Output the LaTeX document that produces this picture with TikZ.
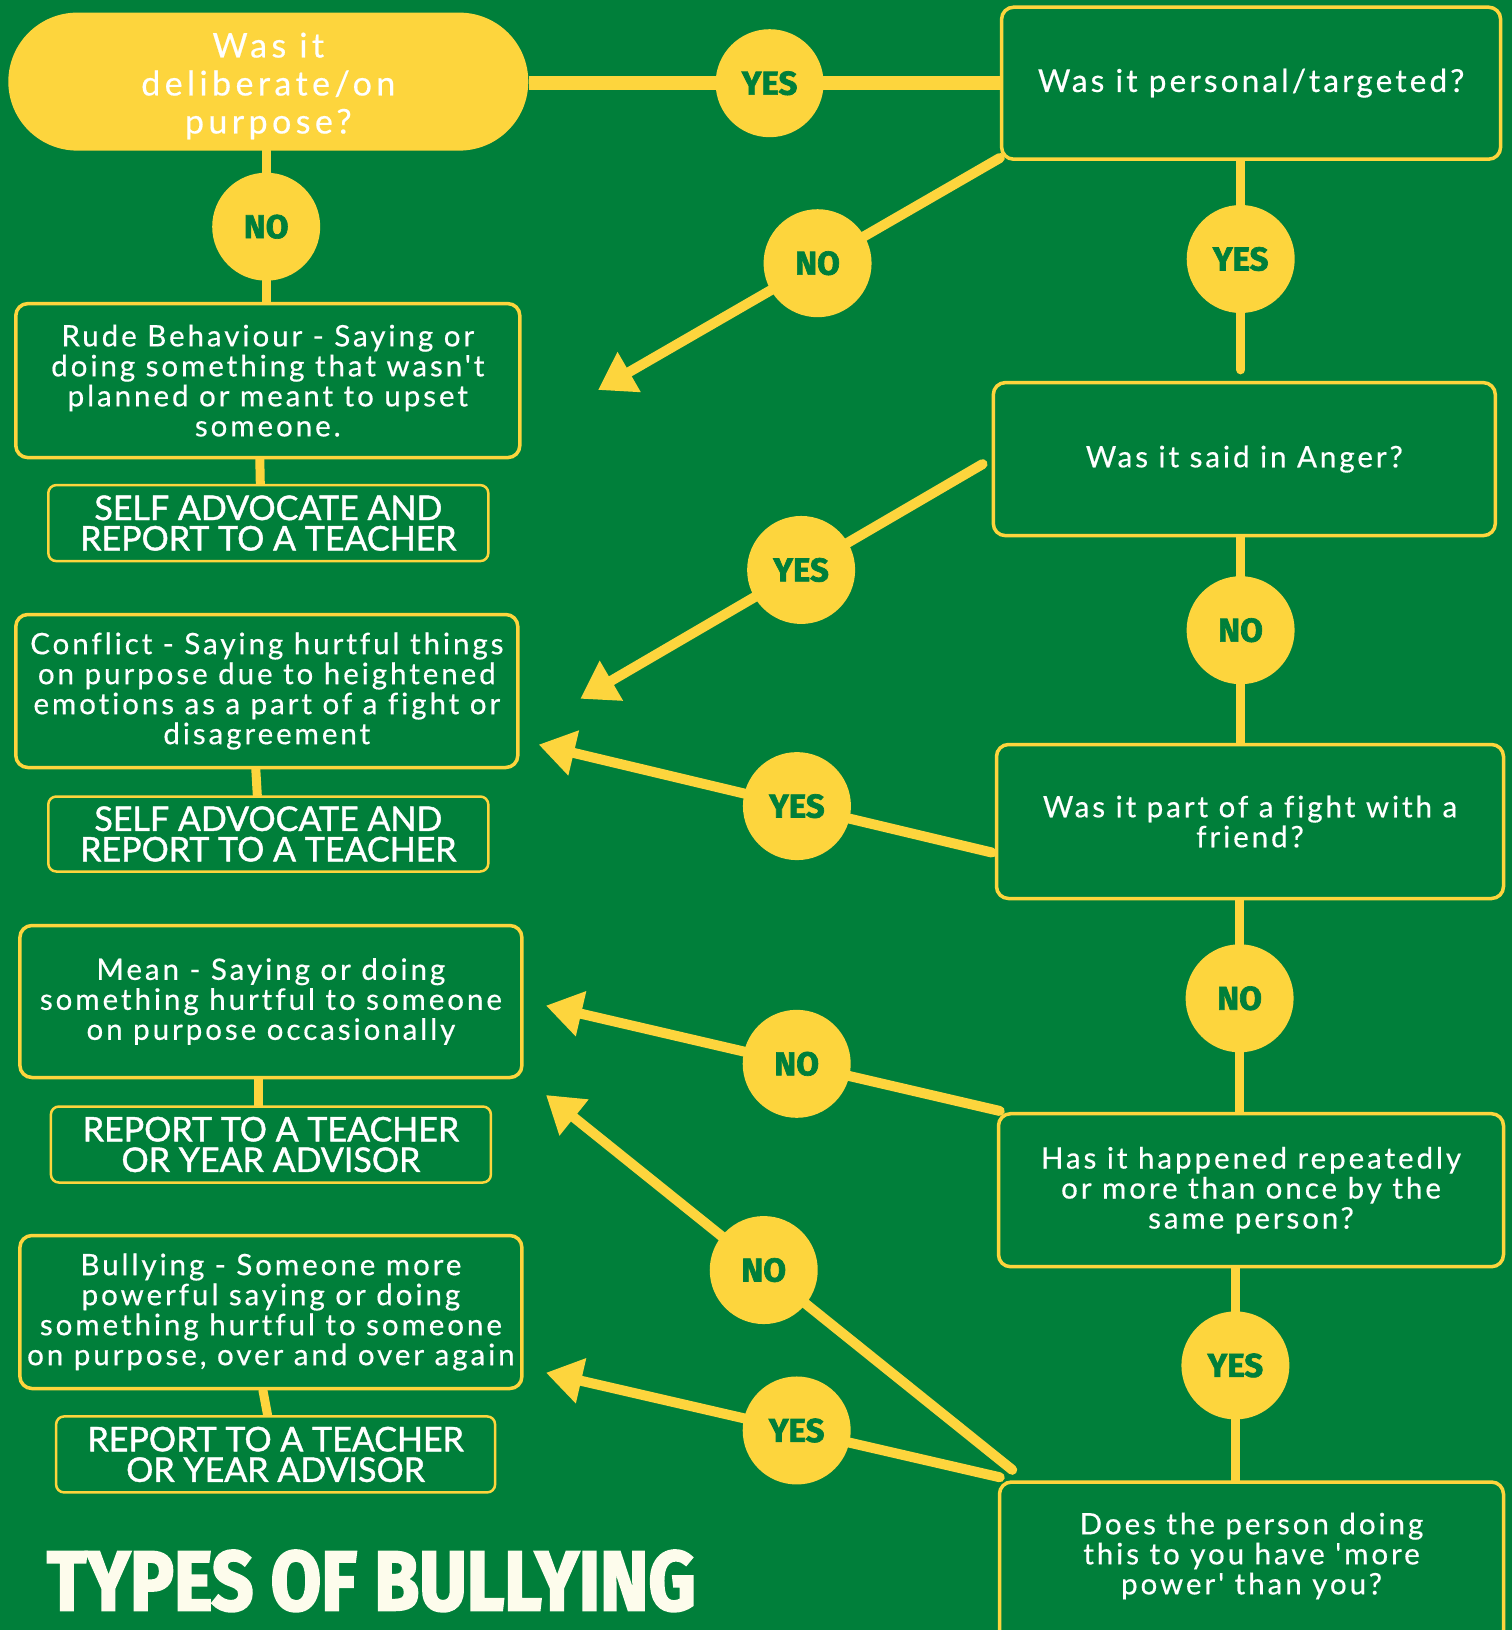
\documentclass[tikz,border=0pt]{standalone}
\usepackage{fontspec}
\usetikzlibrary{arrows.meta,calc}
\newfontfamily\bodyfont{Lato}[LetterSpace=10, Ligatures=CommonOff, FakeBold=0.5]
\newfontfamily\pillfont{Lato}[LetterSpace=13, Ligatures=CommonOff, FakeBold=0.5]
\newfontfamily\actfont{Lato}[FakeBold=1.2]
\newfontfamily\ynfont{Fira Sans}[BoldFeatures={FakeBold=2}]
\newfontfamily\titlefont{Fira Sans}[BoldFeatures={FakeBold=3}]
\definecolor{bggreen}{RGB}{0,127,58}
\definecolor{yel}{RGB}{253,213,61}
\definecolor{cream}{RGB}{253,252,236}
\pgfdeclarelayer{bg}
\pgfdeclarelayer{lines}
\pgfsetlayers{bg,lines,main}
\tikzset{
  qbox/.style={draw=yel, line width=3.5pt, rounded corners=12pt, fill=bggreen, text=white,
    align=center, inner sep=0pt, font=\bodyfont\fontsize{29.5}{30}\selectfont},
  abox/.style={draw=yel, line width=2.5pt, rounded corners=8pt, fill=bggreen, text=white,
    align=center, inner sep=0pt, minimum width=440pt, minimum height=76pt,
    font=\actfont\fontsize{34}{30.5}\selectfont},
  yn/.style={circle, fill=yel, minimum size=108pt, inner sep=0pt, text=bggreen,
    font=\ynfont\bfseries\fontsize{33}{33}\selectfont},
  link/.style={draw=yel, line width=9pt, line cap=round},
  arr/.style={draw=yel, line width=10pt, line cap=round, -{Triangle[length=36pt,width=44pt]}}
}
\begin{document}
\begin{tikzpicture}[x=1pt,y=-1pt]
\useasboundingbox (0,0) rectangle (1512,1630);
\begin{pgfonlayer}{bg}
\fill[bggreen] (0,0) rectangle (1512,1630);
\end{pgfonlayer}

% start node
\node[fill=yel, rounded corners=69pt, minimum width=520pt, minimum height=138pt, inner sep=0pt] (pill) at (268.3,81.6) {};
\node[text=white, align=center, inner sep=0pt, font=\pillfont\fontsize{34}{38}\selectfont] (pilltext) at (268.3,86)
  {Was it\\deliberate/on\\purpose?};

% question boxes (right)
\node[qbox, minimum width=499pt, minimum height=152pt, font=\bodyfont\fontsize{31.5}{30}\selectfont] (q1) at (1251.1,83.2) {Was it personal/targeted?};
\node[qbox, minimum width=502pt, minimum height=153pt] (q2) at (1244.3,459.1) {Was it said in Anger?};
\node[qbox, minimum width=507pt, minimum height=154pt] (q3) at (1250,821.5) {Was it part of a fight with a\\friend?};
\node[qbox, minimum width=505pt, minimum height=153pt] (q4) at (1251,1190.2) {Has it happened repeatedly\\or more than once by the\\same person?};
\node[qbox, minimum width=504pt, minimum height=160pt] (q5) at (1251.5,1562) {};
\node[text=white, align=center, inner sep=0pt, font=\bodyfont\fontsize{29.5}{30}\selectfont] (q5text) at (1251.5,1556)
  {Does the person doing\\this to you have 'more\\power' than you?};

% result boxes (left)
\node[qbox, minimum width=504pt, minimum height=154pt] (r1) at (267.8,380.6)
  {Rude Behaviour - Saying or\\doing something that wasn't\\planned or meant to upset\\someone.};
\node[abox] (a1) at (268.3,523.1) {SELF ADVOCATE AND\\REPORT TO A TEACHER};
\node[qbox, minimum width=502pt, minimum height=153pt] (r2) at (266.8,691)
  {Conflict - Saying hurtful things\\on purpose due to heightened\\emotions as a part of a fight or\\disagreement};
\node[abox, minimum height=75pt] (a2) at (268.3,834) {SELF ADVOCATE AND\\REPORT TO A TEACHER};
\node[qbox, minimum width=502pt, minimum height=152pt] (r3) at (270.9,1001.5)
  {Mean - Saying or doing\\something hurtful to someone\\on purpose occasionally};
\node[abox] (a3) at (270.9,1144.5) {REPORT TO A TEACHER\\OR YEAR ADVISOR};
\node[qbox, minimum width=502pt, minimum height=153pt] (r4) at (270.9,1312)
  {Bullying - Someone more\\powerful saying or doing\\something hurtful to someone\\on purpose, over and over again};
\node[abox, minimum width=439pt] (a4) at (275.6,1454.4) {REPORT TO A TEACHER\\OR YEAR ADVISOR};

% named ends of the arrows
\coordinate (sA) at ($(q1.south west)+(0,-3)$);   \coordinate (tA) at (598,390);
\coordinate (sB) at ($(q2.west)+(-9,5)$);          \coordinate (tB) at (580.3,698.8);
\coordinate (sC) at ($(q3.west)+(-3,31)$);         \coordinate (tC) at (538.7,744.6);
\coordinate (sD) at ($(q4.north west)+(3,-1)$);    \coordinate (tD) at (546,1005.6);
\coordinate (sE) at ($(q5.north west)+(14.5,-10.4)$); \coordinate (tE) at (546,1095);
\coordinate (sF) at ($(q5.north west)+(2,-3)$);    \coordinate (tF) at (546,1372.7);

% yes / no circles
\node[yn] (yes1) at (769.6,83.2) {YES};
\node[yn] (no1) at (266.2,226.7) {NO};
\node[yn] (no2) at ($(sA)!0.4536!(tA)$) {NO};
\node[yn] (yes3) at (1240.7,259) {YES};
\node[yn] (yes4) at ($(sB)!0.451!(tB)$) {YES};
\node[yn] (no4) at (1240.6,630.2) {NO};
\node[yn] (yes5) at ($(sC)!0.430!(tC)$) {YES};
\node[yn] (no6) at (1239.6,998.3) {NO};
\node[yn] (no7) at ($(sD)!0.4475!(tD)$) {NO};
\node[yn] (yes8) at (1235.4,1365.4) {YES};
\node[yn] (no9) at ($(sE)!0.533!(tE)$) {NO};
\node[yn] (yes10) at ($(sF)!0.4475!(tF)$) {YES};

% title
\node[anchor=base west, inner sep=0pt, text=cream, xscale=0.87,
  font=\titlefont\bfseries\fontsize{84}{84}\selectfont] (title) at (47,1610) {TYPES OF BULLYING};

\begin{pgfonlayer}{lines}
\draw[link, line width=14pt, line cap=butt] (pill.east |- yes1) -- (q1.west |- yes1);
\draw[link] (no1 |- pill.south) -- (no1 |- r1.north);
\draw[link] (yes3 |- q1.south) -- ($(yes3 |- q2.north)+(0,-11)$);
\draw[link] (no4 |- q2.south) -- (no4 |- q3.north);
\draw[link] (no6 |- q3.south) -- (no6 |- q4.north);
\draw[link] (yes8 |- q4.south) -- (yes8 |- q5.north);
\draw[link] ($(r1.south)+(-8,0)$) -- ($(a1.north)+(-8,0)$);
\draw[link] ($(r2.south)+(-11,0)$) -- ($(a2.north)+(-11,0)$);
\draw[link] ($(r3.south)+(-12,0)$) -- ($(a3.north)+(-12,0)$);
\draw[link] ($(r4.south)+(-8,0)$) -- ($(a4.north)+(-8,0)$);
\draw[arr] (sA) -- (tA);
\draw[arr] (sB) -- (tB);
\draw[arr] (sC) -- (tC);
\draw[arr] (sD) -- (tD);
\draw[arr] (sE) -- (tE);
\draw[arr] (sF) -- (tF);
\end{pgfonlayer}
\end{tikzpicture}
\end{document}
